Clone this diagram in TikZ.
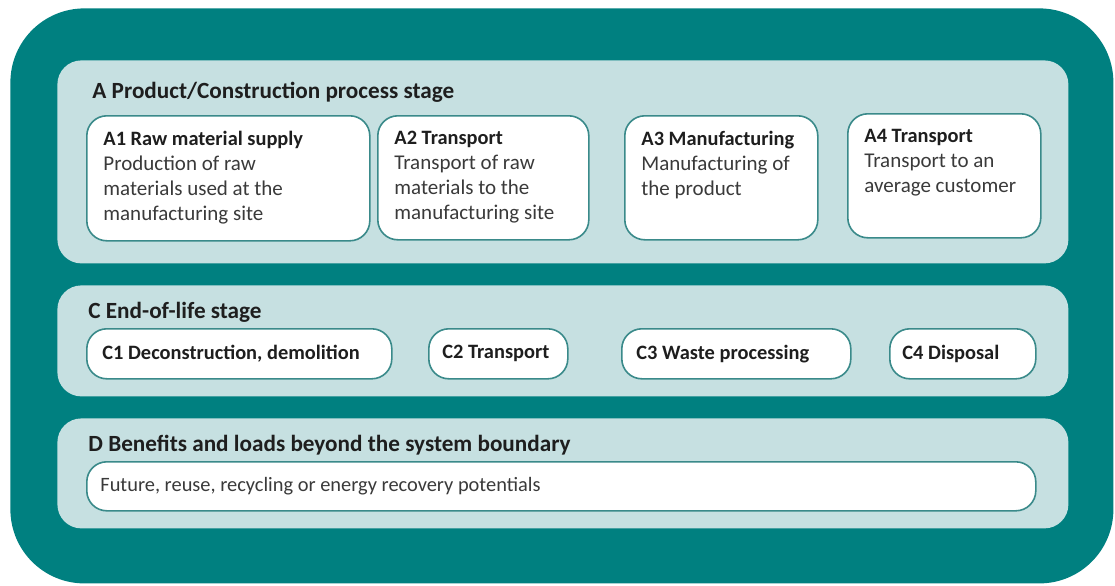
\documentclass[tikz,border=0pt]{standalone}
\usepackage{fontspec}
\setmainfont{Carlito}
\usetikzlibrary{positioning}
\definecolor{tealbg}{HTML}{008080}
\definecolor{stagebg}{HTML}{C6E0E1}
\definecolor{boxline}{HTML}{3A8A8A}
\definecolor{txt}{HTML}{1E1E1E}
\definecolor{subtxt}{HTML}{3A3A3A}
\begin{document}
\begin{tikzpicture}[x=0.5pt,y=-0.5pt,
  system/.style={fill=tealbg, rounded corners=37pt, anchor=north west, inner sep=0, minimum width=551.5pt, minimum height=287.5pt},
  stage/.style={fill=stagebg, rounded corners=12pt, anchor=north west, inner sep=0, minimum width=505.5pt},
  module/.style={draw=boxline, line width=0.8pt, fill=white, rounded corners=10pt, anchor=north west, inner sep=0},
  head/.style={anchor=base west, inner sep=0, text=txt, font=\fontsize{11.6}{12.5}\selectfont\bfseries},
  desc/.style={anchor=north west, inner sep=0, align=left, text=subtxt, font=\fontsize{10.5}{12.5}\selectfont},
  tag/.style={anchor=west, inner sep=0, text=txt, font=\fontsize{10.2}{12.5}\selectfont\bfseries}]
\useasboundingbox (0,0) rectangle (1115,585);
\node[system] (sys) at (10,8){};
\node[stage, minimum height=101.5pt] (pA) at (57,60){};
\node[stage, minimum height=55.5pt] (pC) at (57,285){};
\node[stage, minimum height=55pt] (pD) at (57,418){};
\node[head] (hA) at (92,98){A Product/Construction process stage};
\node[head] (hC) at (88,318){C End-of-life stage};
\node[head] (hD) at (88,451){D Benefits and loads beyond the system boundary};
\node[module, minimum width=141.5pt, minimum height=62.5pt] (mA1) at (86,115){};
\node[module, minimum width=105.5pt, minimum height=62pt] (mA2) at (377,115){};
\node[module, minimum width=96.5pt, minimum height=62pt] (mA3) at (624,115){};
\node[module, minimum width=96.5pt, minimum height=62pt] (mA4) at (847,113){};
\node[desc] (tA1) at ([xshift=8.5pt,yshift=-8pt]mA1.north west){\textbf{\fontsize{10.2}{12.5}\selectfont\color{txt}A1 Raw material supply}\\Production of raw\\materials used at the\\manufacturing site};
\node[desc] (tA2) at ([xshift=8.5pt,yshift=-8pt]mA2.north west){\textbf{\fontsize{10.2}{12.5}\selectfont\color{txt}A2 Transport}\\Transport of raw\\materials to the\\manufacturing site};
\node[desc] (tA3) at ([xshift=8.5pt,yshift=-8pt]mA3.north west){\textbf{\fontsize{10.2}{12.5}\selectfont\color{txt}A3 Manufacturing}\\Manufacturing of\\the product};
\node[desc] (tA4) at ([xshift=8.5pt,yshift=-8pt]mA4.north west){\textbf{\fontsize{10.2}{12.5}\selectfont\color{txt}A4 Transport}\\Transport to an\\average customer};
\node[module, minimum width=152.5pt, minimum height=25pt] (mC1) at (86,328){};
\node[module, minimum width=69.5pt, minimum height=25pt] (mC2) at (428,328){};
\node[module, minimum width=114.5pt, minimum height=25pt] (mC3) at (621,328){};
\node[module, minimum width=73pt, minimum height=25pt] (mC4) at (889,328){};
\node[tag] (tC1) at ([xshift=8pt]mC1.west){C1 Deconstruction, demolition};
\node[tag] (tC2) at ([xshift=7pt]mC2.west){C2 Transport};
\node[tag] (tC3) at ([xshift=7.5pt]mC3.west){C3 Waste processing};
\node[tag] (tC4) at ([xshift=6.5pt]mC4.west){C4 Disposal};
\node[module, minimum width=474.5pt, minimum height=24.5pt] (mD) at (86,461){};
\node[tag, font=\fontsize{10.2}{12.5}\selectfont, text=subtxt] (tD) at ([xshift=7pt]mD.west){Future, reuse, recycling or energy recovery potentials};
\end{tikzpicture}
\end{document}
